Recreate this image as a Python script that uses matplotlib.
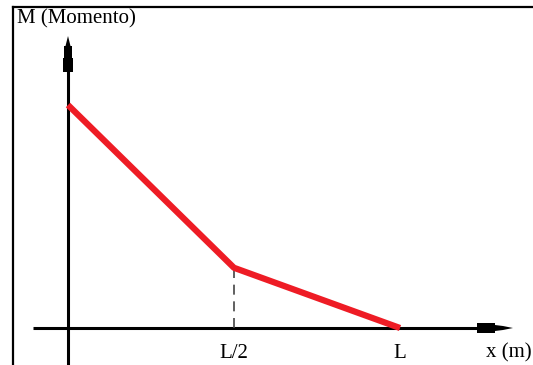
import matplotlib.pyplot as plt
from matplotlib.lines import Line2D

# moment diagram, x in units of L, M normalised to its value at x=0
x_pos = [0.0, 0.5, 1.0]
moment = [1.0, 0.27, 0.0]
tick_labels = ['L/2', 'L']

W, H = 533, 365
fig = plt.figure(figsize=(W / 100, H / 100), dpi=100)
ax = fig.add_axes([0, 0, 1, 1])
ax.set_axis_off()

# pixel origin of the plot and scale
ox, oy = 68, 328
sx, sy = 332, 223
ax.set_xlim(-ox / sx, (W - ox) / sx)
ax.set_ylim(-(H - oy) / sy, oy / sy)


def px(x):
    return (x - ox) / sx


def py(y):
    return (oy - y) / sy


plt.rcParams['font.family'] = 'Liberation Serif'

# frame of the picture (top and left only)
fig.add_artist(Line2D([13 / W, 1], [1 - 7 / H, 1 - 7 / H], color='black', lw=1.6))
fig.add_artist(Line2D([13 / W, 13 / W], [0, 1 - 7 / H], color='black', lw=1.6))

# axes lines
ax.plot([0, 0], [py(H), py(60)], color='black', lw=2.2, solid_capstyle='butt')
ax.plot([px(33), px(490)], [0, 0], color='black', lw=2.2, solid_capstyle='butt')

# arrow heads (long narrow, stepped like the reference)
ay = [72, 58, 58, 46, 46, 36, 46, 46, 58, 58, 72]
ax_off = [-5, -5, -4, -4, -2.5, 0, 2.5, 4, 4, 5, 5]
ax.fill([px(ox + d) for d in ax_off], [py(v) for v in ay], color='black', lw=0)
hx = [477, 495, 495, 503, 513, 503, 495, 495, 477]
hy = [-5, -5, -3, -2, 0, 2, 3, 5, 5]
ax.fill([px(v) for v in hx], [py(oy + d) for d in hy], color='black', lw=0)

# dashed guide at L/2
ax.plot([x_pos[1], x_pos[1]], [0, moment[1]], color='#444444', lw=1.2,
        ls=(0, (6, 4)), zorder=2)

# moment line
ax.plot(x_pos, moment, color='#ee1c25', lw=4.5, solid_capstyle='butt', zorder=3)

# labels
ax.text(17 / W, 1 - 9 / H, 'M (Momento)', transform=ax.transAxes,
        fontsize=15, ha='left', va='top')
for xp, lab in zip(x_pos[1:], tick_labels):
    ax.text(xp, py(354), lab, fontsize=15, ha='center', va='center')
ax.text(px(509), py(353), 'x (m)', fontsize=15, ha='center', va='center')

fig.savefig('out.png', dpi=100)
